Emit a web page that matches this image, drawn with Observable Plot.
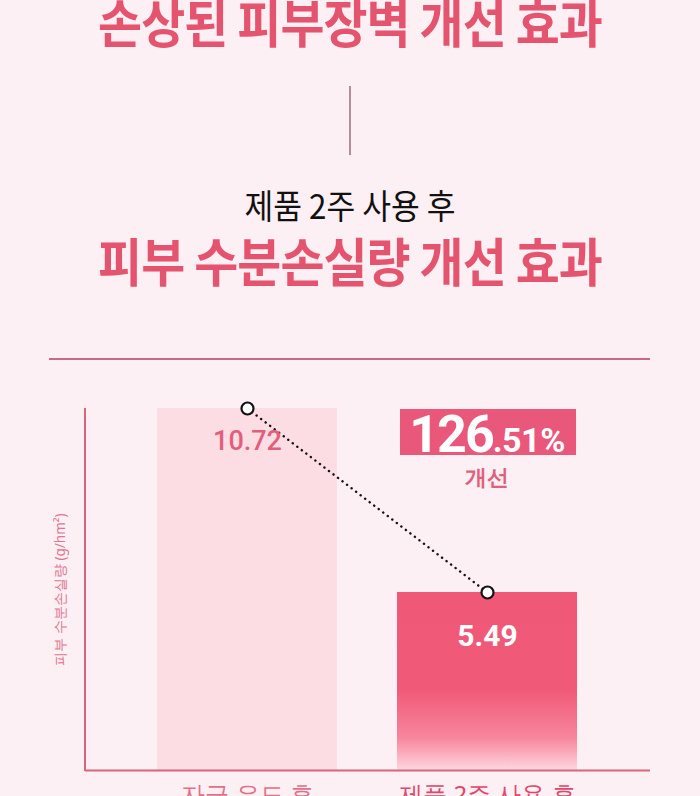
<!DOCTYPE html>
<html>
<head>
<meta charset="utf-8">
<script src="https://cdn.jsdelivr.net/npm/d3@7"></script>
<script src="https://cdn.jsdelivr.net/npm/@observablehq/plot@0.6"></script>
<style>
  html, body { margin: 0; padding: 0; overflow: hidden; background: #fdf0f4; }
  #wrap { position: relative; width: 700px; height: 796px; overflow: hidden; background: #fdf0f4; font-family: "Noto Sans CJK KR", sans-serif; }
  .ttl { position: absolute; left: 0; width: 700px; text-align: center; line-height: 1; white-space: nowrap; }
  .big { font-size: 52px; font-weight: 700; color: #e5546f; transform: scaleX(0.92); letter-spacing: -1px; }
  .sub { font-size: 34px; font-weight: 400; color: #111; transform: scaleX(0.92); }
  #chart { position: absolute; left: 0; top: 380px; }
</style>
</head>
<body>
<div id="wrap">
  <div class="ttl big" id="title1" style="top:-5px"></div>
  <div style="position:absolute;left:349px;top:86px;width:2px;height:69px;background:#b58c9c"></div>
  <div class="ttl sub" id="subtitle" style="top:188px"></div>
  <div class="ttl big" id="title2" style="top:234px"></div>
  <div style="position:absolute;left:49px;top:358px;width:601px;height:2px;background:#c46c86"></div>
  <div id="chart"></div>
</div>
<script>
// ---- data ----
const title1 = "손상된 피부장벽 개선 효과";
const subtitle = "제품 2주 사용 후";
const title2 = "피부 수분손실량 개선 효과";
const categories = ["자극 유도 후", "제품 2주 사용 후"];
const values = [10.72, 5.49];
const valueLabels = ["10.72", "5.49"];
const improvementInt = "126";
const improvementDec = ".51%";
const improvementWord = "개선";
const yLabel = "피부 수분손실량 (g/hm²)";
const baseline = 0.43;

document.getElementById("title1").textContent = title1;
document.getElementById("subtitle").textContent = subtitle;
document.getElementById("title2").textContent = title2;

const barFills = ["#fddde4", "url(#barGrad)"];
const data = categories.map((c, i) => ({cat: c, v: values[i], label: valueLabels[i], fill: barFills[i], i}));

const pink = "#e0607c";
const plot = Plot.plot({
  width: 700,
  height: 440,
  marginLeft: 85,
  marginRight: 50,
  marginTop: 28,
  marginBottom: 50,
  style: {background: "transparent", overflow: "visible"},
  x: {domain: categories, paddingInner: 0.249, paddingOuter: 0.299, axis: null},
  y: {domain: [baseline, Math.max(...values)], axis: null},
  color: {type: "identity"},
  marks: [
    Plot.barY(data, {x: "cat", y1: baseline, y2: "v", fill: "fill"}),
    Plot.ruleY([baseline], {stroke: "#d9647e", strokeWidth: 2}),
    Plot.line(data, {x: "cat", y: "v", stroke: "#111", strokeWidth: 2.4, strokeDasharray: "0.1,5.6", strokeLinecap: "round"}),
    Plot.dot(data, {x: "cat", y: "v", r: 6, fill: "#fff", stroke: "#111", strokeWidth: 2.2}),
    Plot.text(data.filter(d => d.i === 0), {x: "cat", y: "v", text: "label", dy: 33, fill: pink, fontSize: 27, fontWeight: 500, fontFamily: "Roboto"}),
    Plot.text(data.filter(d => d.i === 1), {x: "cat", y: "v", text: "label", dy: 44, fill: "#fff", fontSize: 30, fontWeight: 700, fontFamily: "Roboto"}),
    Plot.text(data, {x: "cat", text: "cat", frameAnchor: "bottom", dy: 32, fill: d => d.i === 0 ? "#e2708a" : "#e0476a", fontSize: 24, fontWeight: d => d.i === 0 ? 400 : 700}),
    Plot.text([yLabel], {frameAnchor: "left", dx: -25, rotate: -90, textAnchor: "middle", fill: "#e07590", fontSize: 13.5})
  ]
});
document.getElementById("chart").appendChild(plot);

// decorations drawn from the plot's own scales
const xs = plot.scale("x"), ys = plot.scale("y");
const svg = d3.select(plot);
const defs = svg.insert("defs", ":first-child");
const grad = defs.append("linearGradient").attr("id", "barGrad").attr("x1", 0).attr("y1", 0).attr("x2", 0).attr("y2", 1);
[[0, "#ef5977"], [0.55, "#f05a78"], [0.82, "#f7869d"], [1, "#fdd6df"]].forEach(([o, c]) =>
  grad.append("stop").attr("offset", o).attr("stop-color", c));

const yTop = ys.apply(Math.max(...values));
const yBottom = ys.apply(baseline);
// y axis line
svg.append("line").attr("x1", 85).attr("x2", 85).attr("y1", yTop).attr("y2", yBottom + 1)
  .attr("stroke", "#d9647e").attr("stroke-width", 2);

// improvement badge
const bx = xs.apply(categories[1]);
const bw = xs.bandwidth;
const badge = svg.append("g");
badge.append("rect").attr("x", bx + 3).attr("y", yTop + 1).attr("width", bw - 4).attr("height", 46).attr("fill", "#e9577a");
const t = badge.append("text").attr("x", bx + bw / 2).attr("y", yTop + 44).attr("text-anchor", "middle")
  .attr("fill", "#fff").attr("font-family", "Roboto").attr("font-weight", 700);
t.append("tspan").attr("font-size", 52).attr("letter-spacing", -2).text(improvementInt);
t.append("tspan").attr("font-size", 34).attr("letter-spacing", -0.5).text(improvementDec);
badge.append("text").attr("x", bx + bw / 2).attr("y", yTop + 77).attr("text-anchor", "middle")
  .attr("fill", "#e0607c").attr("font-size", 22).attr("font-weight", 700).text(improvementWord);
</script>
</body>
</html>
